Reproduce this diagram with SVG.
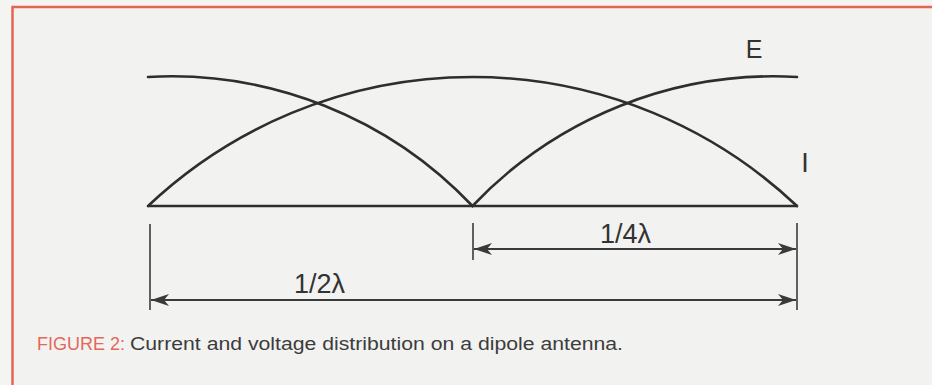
<svg xmlns="http://www.w3.org/2000/svg" width="932" height="385" viewBox="0 0 932 385">
  <defs>
    <marker id="arr" viewBox="0 0 18 12" refX="18" refY="6" markerWidth="18" markerHeight="12" markerUnits="userSpaceOnUse" orient="auto-start-reverse">
      <path d="M0,0 L18,6 L0,12 L5,6 Z" fill="#3a3a3a"/>
    </marker>
  </defs>
  <style>
    .curve { fill: none; stroke: #2e2e2e; stroke-width: 2.6; stroke-linecap: round; }
    .base { fill: none; stroke: #2e2e2e; stroke-width: 2.4; }
    .tick { stroke: #3a3a3a; stroke-width: 1.6; }
    .dim { stroke: #3a3a3a; stroke-width: 1.8; marker-start: url(#arr); marker-end: url(#arr); }
    .lbl { font-family: "Liberation Sans", Arial, sans-serif; fill: #333; }
    .cap { font-family: "Liberation Sans", Arial, sans-serif; font-size: 17.5px; }
  </style>
  <rect width="932" height="385" fill="#f4f4f3"/>
  <rect x="12.5" y="7" width="940" height="400" fill="#f2f2f1" stroke="#e2674e" stroke-width="2.5"/>

  <g id="baseline">
    <line class="base" x1="148" y1="206" x2="798" y2="206"/>
  </g>
  <g id="current-I">
    <path class="curve" d="M148,206 A472.6,472.6 0 0 1 797,206"/>
  </g>
  <g id="voltage-E">
    <path class="curve" d="M148,77 A414.6,414.6 0 0 1 472.5,206 A414.6,414.6 0 0 1 797,77"/>
  </g>

  <g id="connectors">
    <line class="tick" x1="150" y1="224" x2="150" y2="310"/>
    <line class="tick" x1="473" y1="223" x2="473" y2="260"/>
    <line class="tick" x1="797" y1="223" x2="797" y2="310"/>
    <line class="dim" x1="474" y1="249" x2="796" y2="249"/>
    <line class="dim" x1="151" y1="300" x2="796" y2="300"/>
  </g>

  <g id="labels">
    <text class="lbl" x="754" y="58" font-size="25" text-anchor="middle">E</text>
    <text class="lbl" x="805" y="172" font-size="27" text-anchor="middle">I</text>
    <text class="lbl" x="625.5" y="243" font-size="27" text-anchor="middle">1/4λ</text>
    <text class="lbl" x="319.5" y="293" font-size="27" text-anchor="middle">1/2λ</text>
  </g>

  <g id="caption">
    <text class="cap" x="37" y="350" fill="#e4685a" textLength="88" lengthAdjust="spacingAndGlyphs">FIGURE 2:</text>
    <text class="cap" x="130" y="350" fill="#3c3c3c" textLength="493" lengthAdjust="spacingAndGlyphs">Current and voltage distribution on a dipole antenna.</text>
  </g>
</svg>
